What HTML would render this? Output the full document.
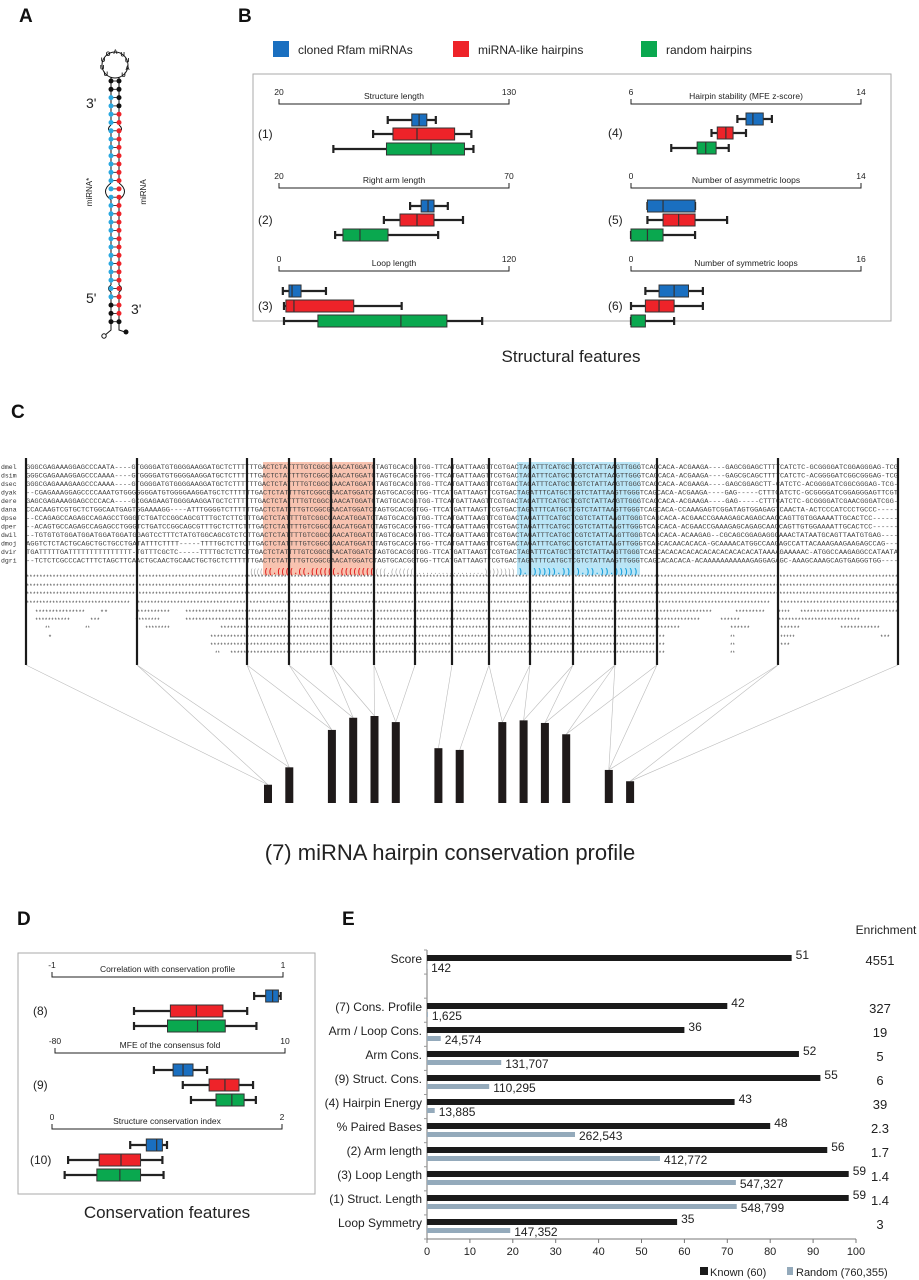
<!DOCTYPE html>
<html><head><meta charset="utf-8">
<style>
body{margin:0;background:#fff}
svg{display:block;font-family:"Liberation Sans",sans-serif}
.mono{font-family:"Liberation Mono",monospace}
</style></head>
<body>
<svg id="fig" width="919" height="1280" viewBox="0 0 919 1280" xmlns="http://www.w3.org/2000/svg">
<g font-weight="bold" font-size="19" fill="#111">
<text x="19" y="22">A</text>
<text x="238" y="22">B</text>
<text x="11" y="418">C</text>
<text x="17" y="925">D</text>
<text x="342" y="925">E</text>
</g>
<g id="hairpin"></g>
<g id="panelB">
<rect x="253" y="74" width="638" height="247" fill="none" stroke="#aaa"/>
<rect x="273" y="41" width="16" height="16" fill="#1a6fc0"/>
<text x="298" y="54" font-size="12" fill="#222">cloned Rfam miRNAs</text>
<rect x="453" y="41" width="16" height="16" fill="#ee2329"/>
<text x="478" y="54" font-size="12" fill="#222">miRNA-like hairpins</text>
<rect x="641" y="41" width="16" height="16" fill="#0aa84f"/>
<text x="666" y="54" font-size="12" fill="#222">random hairpins</text>
<text x="571" y="362" font-size="17" text-anchor="middle" fill="#222">Structural features</text>
</g>
<g id="panelC"></g>
<text x="450" y="860" font-size="22" text-anchor="middle" fill="#222">(7)  miRNA hairpin conservation profile</text>
<g id="panelD">
<rect x="18" y="953" width="297" height="241" fill="none" stroke="#aaa"/>
<text x="167" y="1218" font-size="17" text-anchor="middle" fill="#222">Conservation features</text>
</g>
<g id="panelE">
<text x="886" y="934" font-size="12" text-anchor="middle" fill="#222">Enrichment</text>
<rect x="700" y="1267" width="8" height="8" fill="#1a1a1a"/>
<text x="710" y="1276" font-size="11" fill="#222">Known (60)</text>
<rect x="787" y="1267" width="6" height="8" fill="#94aabb"/>
<text x="796" y="1276" font-size="11" fill="#222">Random (760,355)</text>
</g>
</svg>
<script>
const NS="http://www.w3.org/2000/svg";
function mk(parent,tag,attrs,txt){const e=document.createElementNS(NS,tag);for(const k in attrs)e.setAttribute(k,attrs[k]);if(txt!==undefined)e.textContent=txt;parent.appendChild(e);return e;}

/* ---------- Panel E data ---------- */
const eCategories=["Score","(7) Cons. Profile","Arm / Loop Cons.","Arm Cons.","(9) Struct. Cons.","(4) Hairpin Energy","% Paired Bases","(2) Arm length","(3) Loop Length","(1) Struct. Length","Loop Symmetry"];
const eKnownPct=[85,70,60,86.7,91.7,71.7,80,93.3,98.3,98.3,58.3];
const eKnownLabels=["51","42","36","52","55","43","48","56","59","59","35"];
const eRandomPct=[0.02,0.21,3.2,17.3,14.5,1.8,34.5,54.3,72,72.2,19.4];
const eRandomLabels=["142","1,625","24,574","131,707","110,295","13,885","262,543","412,772","547,327","548,799","147,352"];
const eEnrichment=["4551","327","19","5","6","39","2.3","1.7","1.4","1.4","3"];
const eTicks=[0,10,20,30,40,50,60,70,80,90,100];

/* ---------- Panel B / D boxplot data: [whiskerLow,q1,median,q3,whiskerHigh] for blue, red, green ---------- */
const structLength=[[72,83.5,87,90.7,95],[65,74.5,86,104,112],[46,71.4,92.7,108.7,113]];
const rightArm=[[48.5,50.9,52.4,53.7,56.7],[42.8,46.3,50,53.7,60],[32.2,33.9,37.6,43.7,54.6]];
const loopLength=[[2,5.2,6.8,11.5,24.5],[2.6,3.6,7.8,39,64],[2.6,20.3,63.6,87.6,106]];
const hairpinStab=[[9.7,10,10.24,10.6,10.9],[8.8,9,9.3,9.55,10],[7.4,8.3,8.6,8.96,9.4]];
const asymLoops=[[1,1,1.95,3.9,3.9],[1,1.95,2.9,3.9,5.85],[0,0,1,1.95,3.9]];
const symLoops=[[1,1.95,3,4,5],[0,1,1.95,3,5],[0,0,0,1,3]];
const corrProfile=[[0.75,0.85,0.91,0.96,0.98],[-0.29,0.025,0.25,0.48,0.69],[-0.29,0,0.26,0.5,0.77]];
const mfeConsensus=[[-41.3,-33.8,-29.9,-26,-20.5],[-30,-19.7,-13.5,-8,-2.5],[-26.8,-17,-10.8,-6,-1.4]];
const sciIndex=[[0.68,0.82,0.91,0.96,1.0],[0.14,0.41,0.6,0.77,0.96],[0.11,0.39,0.59,0.77,0.97]];

/* ---------- Panel C data ---------- */
const consProfile=[0.21,0.41,0.84,0.98,1.0,0.93,0.63,0.61,0.93,0.95,0.92,0.79,0.38,0.25];
const barSlots=[0,1,3,4,5,6,8,9,11,12,13,14,16,17];
const species=["dmel","dsim","dsec","dyak","dere","dana","dpse","dper","dwil","dmoj","dvir","dgri"];
const prefixes=[
"GGGCGAGAAAGGAGCCCAATA----GTGGGGATGTGGGGAAGGATGCTCTTTTT",
"GGGCGAGAAAGGAGCCCAAAA----GTGGGGATGTGGGGAAGGATGCTCTTTTT",
"GGGCGAGAAAGAAGCCCAAAA----GTGGGGATGTGGGGAAGGATGCTCTTTTT",
"--CGAGAAAGGAGCCCCAAATGTGGGGGGGATGTGGGGAAGGATGCTCTTTTT",
"GAGCGAGAAAGGAGCCCCACA----GCGGAGAAGTGGGGAAGGATGCTCTTTTT",
"CCACAAGTCGTGCTCTGGCAATGAGTGGAAAAGG----ATTTGGGGTCTTTTT",
"--CCAGAGCCAGAGCCAGAGCCTGGGTCTGATCCGGCAGCGTTTGCTCTTCTT",
"--ACAGTGCCAGAGCCAGAGCCTGGGTCTGATCCGGCAGCGTTTGCTCTTCTT",
"--TGTGTGTGGATGGATGGATGGATGGAGTCCTTTCTATGTGGCAGCGTCTCT",
"AGGTCTCTACTGCAGCTGCTGCCTGATATTTCTTTT-----TTTTGCTCTTCT",
"TGATTTTTGATTTTTTTTTTTTTTT-TGTTTCGCTC-----TTTTGCTCTTCT",
"--TCTCTCGCCCACTTTCTAGCTTCAACTGCAACTGCAACTGCTGCTCTTTTT"];
const core="TGACTCTATTTTGTCGGCGAACATGGATCTAGTGCACGGTGG-TTCATGATTAAGTTCGTGACTAGATTTCATGCTCGTCTATTAAGTTGGGTCAGCACA";
const suffixes=[
"-ACGAAGA----GAGCGGAGCTTTTCATCTC-GCGGGGATCGGAGGGAG-TCG",
"-ACGAAGA----GAGCGCAGCTTTTCATCTC-ACGGGGATCGGCGGGAG-TCG",
"-ACGAAGA----GAGCGGAGCTT-CATCTC-ACGGGGATCGGCGGGAG-TCG-",
"-ACGAAGA----GAG-----CTTTCATCTC-GCGGGGATCGGAGGGAGTTCGT",
"-ACGAAGA----GAG-----CTTTCATCTC-GCGGGGATCGAACGGGATCGG-",
"-CCAAAGAGTCGGATAGTGGAGAGTCAACTA-ACTCCCATCCCTGCCC-----",
"-ACGAACCGAAAGAGCAGAGCAACCAGTTGTGGAAAATTGCACTCC------",
"-ACGAACCGAAAGAGCAGAGCAACCAGTTGTGGAAAATTGCACTCC------",
"-ACAAGAG--CGCAGCGGAGAGGGAAACTATAATGCAGTTAATGTGAG----",
"ACACACA-GCAAAACATGGCCAAGAGCCATTACAAAGAAGAAGAGCCAG---",
"CACACACACACACACACACATAAAAGAAAAAC-ATGGCCAAGAGGCCATAATA",
"CACA-ACAAAAAAAAAAAGAGGAGAGC-AAAGCAAAGCAGTGAGGGTGG----"];
const structLine="((((((.((((.((.((((((.(((((((((((((.(((((.....................)))))))).)))))).)))).)).))))))))))))......";

/* ---------- Panel A: hairpin ---------- */
(function(){
 const g=document.getElementById('hairpin');
 const L=111,R=119;
 mk(g,'circle',{cx:115,cy:65,r:13,fill:'none',stroke:'#111','stroke-width':1});
 const loopLetters="UUUOAUUAU";
 for(let i=0;i<9;i++){const a=Math.PI*(0.75+i*0.19);const c=mk(g,'text',{x:115+13*Math.cos(a),y:67+13*Math.sin(a),'font-size':6,'font-weight':'bold','text-anchor':'middle',fill:'#111'},loopLetters[i]);}
 // strands
 mk(g,'path',{d:`M${L} 77 V125 M${L} 133 V183 M${L} 200 V285 M${L} 292 V330 L104 336 M${R} 77 V125 M${R} 133 V183 M${R} 200 V285 M${R} 292 V330 L125 332`,stroke:'#111','stroke-width':1,fill:'none'});
 mk(g,'path',{d:`M${L} 125 Q106 129 ${L} 133 M${R} 125 Q124 129 ${R} 133 M${L} 183 Q100 191.5 ${L} 200 M${R} 183 Q130 191.5 ${R} 200 M${L} 285 Q106 288.5 ${L} 292 M${R} 285 Q124 288.5 ${R} 292`,stroke:'#111','stroke-width':1,fill:'none'});
 for(let y=81;y<=330;y+=8.3){
   const inBlue=(y>95&&y<300);const inRed=(y>110&&y<315);
   let cl=inBlue?'#29a8e0':'#111',cr=inRed?'#ee2329':'#111';
   mk(g,'line',{x1:L,y1:y,x2:R,y2:y,stroke:'#111','stroke-width':0.8});
   mk(g,'circle',{cx:L,cy:y,r:2.5,fill:cl});
   mk(g,'circle',{cx:R,cy:y,r:2.5,fill:cr});
 }
 mk(g,'circle',{cx:104,cy:336,r:2.2,fill:'#fff',stroke:'#111'});
 mk(g,'circle',{cx:126,cy:332,r:2.5,fill:'#111'});
 let t=mk(g,'text',{x:86,y:108,'font-size':14,fill:'#222'},"3'");
 t=mk(g,'text',{x:86,y:303,'font-size':14,fill:'#222'},"5'");
 t=mk(g,'text',{x:131,y:314,'font-size':14,fill:'#222'},"3'");
 t=mk(g,'text',{x:0,y:0,'font-size':8,fill:'#222','text-anchor':'middle',transform:'translate(92,192) rotate(-90)'},"miRNA*");
 t=mk(g,'text',{x:0,y:0,'font-size':8,fill:'#222','text-anchor':'middle',transform:'translate(146,192) rotate(-90)'},"miRNA");
})();

/* ---------- Boxplot drawing ---------- */
const colors=['#1a6fc0','#ee2329','#0aa84f'];
function boxPanel(parent,name,title,vmin,vmax,x0,x1,axisY,rowY,labelTxt,labelX,data){
 const g=mk(parent,'g',{});
 
 
 const sx=v=>x0+(v-vmin)/(vmax-vmin)*(x1-x0);
 mk(g,'path',{d:`M${x0} ${axisY-5} V${axisY} H${x1} V${axisY-5}`,stroke:'#222','stroke-width':1,fill:'none'});
 mk(g,'text',{x:x0,y:axisY-9,'font-size':8.5,'text-anchor':'middle',fill:'#222'},String(vmin));
 mk(g,'text',{x:x1,y:axisY-9,'font-size':8.5,'text-anchor':'middle',fill:'#222'},String(vmax));
 mk(g,'text',{x:(x0+x1)/2,y:axisY-5,'font-size':8.5,'text-anchor':'middle',fill:'#222'},title);
 const lab=mk(g,'text',{x:labelX,y:rowY[1]+10,'font-size':12,fill:'#222'},labelTxt);
 
 
 data.forEach((d,i)=>{
   const y=rowY[i],h=12,cy=y+h/2;
   const b=mk(g,'g',{});
   
   
   mk(b,'line',{x1:sx(d[0]),y1:cy,x2:sx(d[4]),y2:cy,stroke:'#222','stroke-width':2.2});
   mk(b,'line',{x1:sx(d[0]),y1:cy-4,x2:sx(d[0]),y2:cy+4,stroke:'#222','stroke-width':2.2});
   mk(b,'line',{x1:sx(d[4]),y1:cy-4,x2:sx(d[4]),y2:cy+4,stroke:'#222','stroke-width':2.2});
   mk(b,'rect',{x:sx(d[1]),y:y,width:Math.max(sx(d[3])-sx(d[1]),0.5),height:h,fill:colors[i],stroke:'#333','stroke-width':1});
   mk(b,'line',{x1:sx(d[2]),y1:y,x2:sx(d[2]),y2:y+h,stroke:'#333','stroke-width':1.2});
 });
}
const pB=document.getElementById('panelB');
boxPanel(pB,'structure-length-plot','Structure length',20,130,279,509,104,[114,128,143],'(1)',258,structLength);
boxPanel(pB,'right-arm-length-plot','Right arm length',20,70,279,509,188,[200,214,229],'(2)',258,rightArm);
boxPanel(pB,'loop-length-plot','Loop length',0,120,279,509,271,[285,300,315],'(3)',258,loopLength);
boxPanel(pB,'hairpin-stability-plot','Hairpin stability (MFE z-score)',6,14,631,861,104,[113,127,142],'(4)',608,hairpinStab);
boxPanel(pB,'asymmetric-loops-plot','Number of asymmetric loops',0,14,631,861,188,[200,214,229],'(5)',608,asymLoops);
boxPanel(pB,'symmetric-loops-plot','Number of symmetric loops',0,16,631,861,271,[285,300,315],'(6)',608,symLoops);
const pD=document.getElementById('panelD');
boxPanel(pD,'correlation-plot','Correlation with conservation profile',-1,1,52,283,977,[990,1005,1020],'(8)',33,corrProfile);
boxPanel(pD,'mfe-consensus-plot','MFE of the consensus fold',-80,10,55,285,1053,[1064,1079,1094],'(9)',33,mfeConsensus);
boxPanel(pD,'sci-plot','Structure conservation index',0,2,52,282,1129,[1139,1154,1169],'(10)',30,sciIndex);

/* ---------- Panel C ---------- */
(function(){
 const g=document.getElementById('panelC');
 const ax0=26,ax1=898;
 mk(g,'rect',{x:263,y:462,width:111,height:113,fill:'#f6b49c','fill-opacity':0.8});
 mk(g,'rect',{x:517,y:462,width:123,height:113,fill:'#a9def4','fill-opacity':0.8});
 species.forEach((s,i)=>{
   const y=469+i*8.5;
   const n=mk(g,'text',{x:1,y:y,'font-size':6.5,fill:'#333',class:'mono'},s);
   
   
   const seq=prefixes[i]+core+suffixes[i];
   const t=mk(g,'text',{x:ax0,y:y,'font-size':6.5,fill:'#444',class:'mono',textLength:ax1-ax0,lengthAdjust:'spacingAndGlyphs'},seq);
   
   
 });
 // structure line
 const sy=574;
 mk(g,'text',{x:250,y:sy,'font-size':7,fill:'#888',class:'mono',textLength:13,lengthAdjust:'spacingAndGlyphs'},"((((");
 mk(g,'text',{x:264,y:sy,'font-size':8,'font-weight':'bold',fill:'#e01a1a',class:'mono',textLength:110,lengthAdjust:'spacingAndGlyphs'},"((.((((.((.((((((.((((((((");
 mk(g,'text',{x:375,y:sy,'font-size':7,fill:'#999',class:'mono',textLength:140,lengthAdjust:'spacingAndGlyphs'},"(((.((((((..................))))))))");
 mk(g,'text',{x:518,y:sy,'font-size':8,'font-weight':'bold',fill:'#1aa0dc',class:'mono',textLength:120,lengthAdjust:'spacingAndGlyphs'},").)))))).)))).)).)).)))))");
 // conservation asterisk rows
 const rows=[
  [576,[[26,898]]],[585,[[26,898]]],[593,[[26,898]]],
  [602,[[26,130],[137,770],[780,898]]],
  [611,[[35,85],[100,108],[137,170],[185,712],[735,765],[778,790],[800,898]]],
  [619,[[35,70],[90,100],[135,160],[185,700],[720,740],[778,860]]],
  [627,[[45,50],[85,90],[145,170],[220,680],[730,750],[780,800],[840,880]]],
  [636,[[48,52],[210,665],[730,735],[780,795],[880,890]]],
  [644,[[210,665],[730,735],[780,790]]],
  [652,[[215,220],[230,665],[730,735]]]];
 rows.forEach(r=>{r[1].forEach(sg=>{
   const n=Math.max(1,Math.round((sg[1]-sg[0])/3.3));
   mk(g,'text',{x:sg[0],y:r[0]+3,'font-size':6,fill:'#333',class:'mono',textLength:Math.max(sg[1]-sg[0],3),lengthAdjust:'spacingAndGlyphs'},'*'.repeat(n));
 });});
 // vertical position markers
 const vx=[26,137,247,289,331,374,415,452,489,530,573,615,657,778,898];
 vx.forEach(x=>{const l=mk(g,'line',{x1:x,y1:458,x2:x,y2:665,stroke:'#1a1a1a','stroke-width':2.2});});
 // profile bars
 const base=803,hmax=87;
 const bx=i=>264+barSlots[i]*21.3;
 const conn=[[0],[0,1],[1,2],[2,3],[3,4],[4,5],[5],[6],[7,8],[8,9],[9,10],[10,11,12],[11,12],[12,13],[13]];
 conn.forEach((bs,k)=>bs.forEach(b=>{
   mk(g,'line',{x1:vx[k],y1:665,x2:bx(b)+4,y2:base-consProfile[b]*hmax,stroke:'#bbb','stroke-width':0.6});
 }));
 consProfile.forEach((v,i)=>{
   const r=mk(g,'rect',{x:bx(i),y:base-v*hmax,width:8,height:v*hmax,fill:'#1f1a1a'});
   
   
 });
})();

/* ---------- Panel E chart ---------- */
(function(){
 const g=document.getElementById('panelE');
 const x0=427,x1=856,yTop=950,yBot=1239;
 const sx=v=>x0+v/100*(x1-x0);
 const rowY=[955,1003,1027,1051,1075,1099,1123,1147,1171,1195,1219];
 mk(g,'line',{x1:x0,y1:yTop,x2:x0,y2:yBot,stroke:'#777','stroke-width':1});
 mk(g,'line',{x1:x0,y1:yBot,x2:x1,y2:yBot,stroke:'#777','stroke-width':1});
 eTicks.forEach(t=>{
   mk(g,'line',{x1:sx(t),y1:yBot,x2:sx(t),y2:yBot+4,stroke:'#777'});
   const tl=mk(g,'text',{x:sx(t),y:yBot+16,'font-size':11,'text-anchor':'middle',fill:'#222'},String(t));
   
   
 });
 for(let k=0;k<=12;k++){mk(g,'line',{x1:x0-3,y1:yTop+k*(yBot-yTop)/12,x2:x0,y2:yTop+k*(yBot-yTop)/12,stroke:'#999'});}
 eCategories.forEach((c,i)=>{
   const y=rowY[i];
   const cl=mk(g,'text',{x:x0-5,y:y+8,'font-size':12,'text-anchor':'end',fill:'#222'},c);
   
   
   const kb=mk(g,'rect',{x:x0,y:y,width:sx(eKnownPct[i])-x0,height:6,fill:'#1a1a1a'});
   
   
   mk(g,'text',{x:sx(eKnownPct[i])+4,y:y+4,'font-size':12,fill:'#222'},eKnownLabels[i]);
   const rb=mk(g,'rect',{x:x0,y:y+9,width:Math.max(sx(eRandomPct[i])-x0,0.3),height:5,fill:'#94aabb'});
   
   
   mk(g,'text',{x:sx(eRandomPct[i])+4,y:y+17,'font-size':12,fill:'#222'},eRandomLabels[i]);
   const en=mk(g,'text',{x:880,y:y+10,'font-size':13,'text-anchor':'middle',fill:'#222'},eEnrichment[i]);
   
   
 });
})();
</script>
</body></html>
